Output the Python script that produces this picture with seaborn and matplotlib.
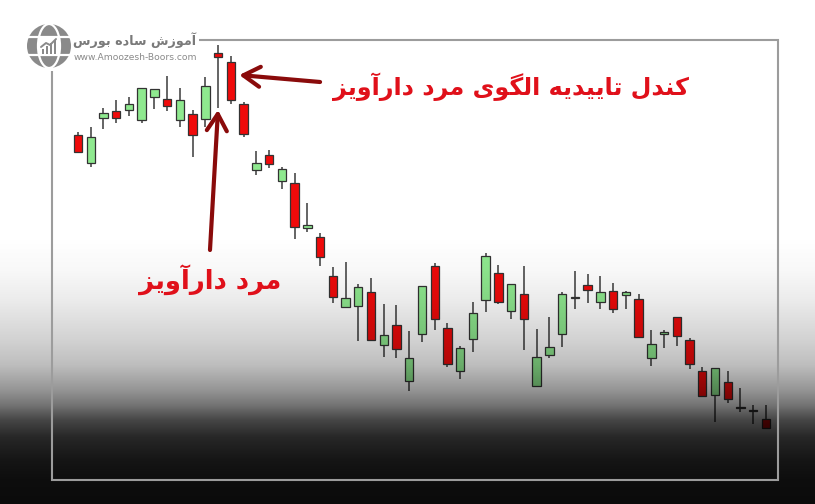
import numpy as np
import matplotlib
matplotlib.use("Agg")
import matplotlib.pyplot as plt
from matplotlib.patches import Rectangle, Circle, Ellipse, FancyBboxPatch
import seaborn as sns

sns.set_theme(style="white")
plt.rcParams["font.family"] = ["DejaVu Sans"]

# ---- OHLC series (one candle per session) ----
open_ = [369, 341, 386, 393, 394, 384, 407, 405, 384, 390,
         385, 451, 442, 400, 334, 349, 323, 321, 276, 267,
         228, 197, 198, 212, 159, 179, 123, 170, 238, 176,
         133, 165, 204, 231, 193, 210, 118, 149, 170, 206,
         219, 202, 213, 209, 205, 146, 170, 187, 164, 133,
         109, 122, 97, 94, 85]
high = [372, 377, 396, 404, 407, 416, 415, 428, 416, 394,
        427, 459, 448, 402, 353, 354, 337, 331, 301, 271,
        237, 242, 220, 226, 200, 199, 173, 218, 241, 181,
        158, 202, 251, 239, 220, 238, 175, 187, 212, 233,
        230, 228, 221, 213, 210, 174, 174, 187, 166, 137,
        136, 133, 116, 99, 99]
low = [351, 337, 375, 381, 388, 381, 395, 393, 377, 347,
       377, 396, 400, 367, 329, 336, 315, 265, 272, 238,
       201, 197, 163, 164, 147, 146, 113, 162, 174, 137,
       125, 152, 192, 200, 185, 154, 117, 146, 157, 195,
       201, 195, 191, 195, 167, 138, 156, 158, 135, 108,
       82, 101, 92, 80, 76]
close = [352, 367, 391, 386, 400, 416, 415, 398, 404, 369,
         418, 447, 404, 370, 341, 340, 335, 277, 279, 247,
         207, 206, 217, 164, 169, 155, 146, 218, 185, 140,
         156, 191, 248, 202, 220, 185, 147, 157, 210, 207,
         214, 212, 195, 212, 167, 160, 172, 168, 140, 108,
         136, 105, 96, 93, 76]

HANGING_MAN = 11        # index of the hanging-man candle
CONFIRM = 12            # index of the confirmation candle

title_main = "کندل تاییدیه الگوی مرد دارآویز"
title_hm = "مرد دارآویز"
brand = "آموزش ساده بورس"
site = "www.Amoozesh-Boors.com"

UP = "#8fe98f"
DOWN = "#f00a0a"
EDGE = "#333333"
ARROW = "#8a0b0b"
LABEL = "#e0101a"

# ---- minimal Persian shaping (presentation forms, right-to-left) ----
FORMS = {
    "ا": ("\uFE8D", "\uFE8E", None, None),
    "آ": ("\uFE81", "\uFE82", None, None),
    "ب": ("\uFE8F", "\uFE90", "\uFE91", "\uFE92"),
    "ت": ("\uFE95", "\uFE96", "\uFE97", "\uFE98"),
    "د": ("\uFEA9", "\uFEAA", None, None),
    "ر": ("\uFEAD", "\uFEAE", None, None),
    "ز": ("\uFEAF", "\uFEB0", None, None),
    "س": ("\uFEB1", "\uFEB2", "\uFEB3", "\uFEB4"),
    "ش": ("\uFEB5", "\uFEB6", "\uFEB7", "\uFEB8"),
    "ل": ("\uFEDD", "\uFEDE", "\uFEDF", "\uFEE0"),
    "م": ("\uFEE1", "\uFEE2", "\uFEE3", "\uFEE4"),
    "ن": ("\uFEE5", "\uFEE6", "\uFEE7", "\uFEE8"),
    "ه": ("\uFEE9", "\uFEEA", "\uFEEB", "\uFEEC"),
    "و": ("\uFEED", "\uFEEE", None, None),
    "ک": ("\uFB8E", "\uFB8F", "\uFB90", "\uFB91"),
    "گ": ("\uFB92", "\uFB93", "\uFB94", "\uFB95"),
    "ی": ("\uFBFC", "\uFBFD", "\uFBFE", "\uFBFF"),
}


def shape_fa(text):
    out = []
    for i, ch in enumerate(text):
        if ch not in FORMS:
            out.append(ch)
            continue
        prev = text[i - 1] if i > 0 else ""
        nxt = text[i + 1] if i + 1 < len(text) else ""
        join_prev = prev in FORMS and FORMS[prev][2] is not None
        join_next = FORMS[ch][2] is not None and nxt in FORMS
        iso, fin, ini, med = FORMS[ch]
        if join_prev and join_next:
            out.append(med)
        elif join_prev:
            out.append(fin)
        elif join_next:
            out.append(ini)
        else:
            out.append(iso)
    return "".join(out)[::-1]


W, H = 815, 504
fig = plt.figure(figsize=(W / 100, H / 100), dpi=100)
fig.patch.set_facecolor("white")

# ---- price axes ----
step = 12.74
ax = fig.add_axes([0, 0, 1, 1])
ax.set_xlim(-78 / step, (W - 78) / step)
ax.set_ylim(0, H)
ax.set_facecolor("none")
ax.axis("off")

n = len(open_)
x = np.arange(n)
o = np.array(open_, float)
c = np.array(close, float)
hi = np.array(high, float)
lo = np.array(low, float)
rising = c >= o
colors = [UP if r else DOWN for r in rising]

ax.vlines(x, lo, hi, color="#3a3a3a", lw=1.1, zorder=2)
ax.bar(x, np.maximum(np.abs(c - o), 1.0), bottom=np.minimum(o, c), width=0.66,
       color=colors, edgecolor=EDGE, linewidth=0.9, zorder=3)

# ---- darkening haze toward the bottom ----
ov = fig.add_axes([0, 0, 1, 1], zorder=5)
ov.set_xlim(0, W)
ov.set_ylim(H, 0)
ov.axis("off")
ov.set_facecolor("none")
ys = np.arange(H) + 0.5
bright = np.interp(ys, [0, 235, 270, 300, 340, 365, 390, 405, 420, 437, 460, 480, 504],
                   [1, 1, 0.97, 0.92, 0.82, 0.74, 0.58, 0.45, 0.27, 0.15, 0.08, 0.05, 0.04])
haze = np.zeros((H, 1, 4))
haze[..., 3] = (1 - bright)[:, None]
ov.imshow(haze, extent=(0, W, H, 0), aspect="auto", interpolation="bilinear", zorder=1)

# frame
ov.add_patch(Rectangle((52, 40), 726, 440, fill=False, ec="#9c9c9c", lw=1.5, zorder=2))

# logo block
ov.add_patch(Rectangle((0, 0), 199, 71, fc="white", ec="none", zorder=3))
ov.add_patch(Circle((49, 46), 22, fc="#8a8a8a", ec="none", zorder=4))
ov.add_patch(Ellipse((49, 46), 22, 44, fill=False, ec="white", lw=1.6, zorder=5))
ov.plot([28, 70], [37, 37], color="white", lw=1.6, zorder=5)
ov.plot([28, 70], [55, 55], color="white", lw=1.6, zorder=5)
ov.add_patch(FancyBboxPatch((39, 36), 20, 20, boxstyle="round,pad=0,rounding_size=3",
                            fc="white", ec="none", zorder=6))
for bx, bh in [(42, 5), (46, 8), (50, 11), (54, 14)]:
    ov.add_patch(Rectangle((bx, 54 - bh), 2.4, bh, fc="#8a8a8a", ec="none", zorder=7))
ov.plot([41, 46, 50, 56], [47, 43, 45, 39], color="#8a8a8a", lw=1.4, zorder=7)
ov.text(135, 40, shape_fa(brand), ha="center", va="center", fontsize=9.2,
        fontweight="bold", color="#7a7a7a", zorder=8)
ov.text(135, 57, site, ha="center", va="center", fontsize=6.6, color="#8a8a8a", zorder=8)

# ---- annotations ----
ov.annotate("", xy=(HANGING_MAN - 0.01, low[HANGING_MAN] - 2), xycoords=ax.transData,
            xytext=(HANGING_MAN - 0.64, 254), textcoords=ax.transData,
            arrowprops=dict(arrowstyle="->,head_length=0.6,head_width=0.36",
                            color=ARROW, lw=3, mutation_scale=20, shrinkA=0, shrinkB=0),
            zorder=9)
ov.annotate("", xy=(CONFIRM + 0.66, 429), xycoords=ax.transData,
            xytext=(CONFIRM + 7.0, 422), textcoords=ax.transData,
            arrowprops=dict(arrowstyle="->,head_length=0.6,head_width=0.36",
                            color=ARROW, lw=3, mutation_scale=20, shrinkA=0, shrinkB=0),
            zorder=9)
ov.text(511, 87, shape_fa(title_main), ha="center", va="center", fontsize=17.2,
        fontweight="bold", color=LABEL, zorder=9)
ov.text(210, 280, shape_fa(title_hm), ha="center", va="center", fontsize=18.6,
        fontweight="bold", color=LABEL, zorder=9)

fig.savefig("out.png", dpi=100)
